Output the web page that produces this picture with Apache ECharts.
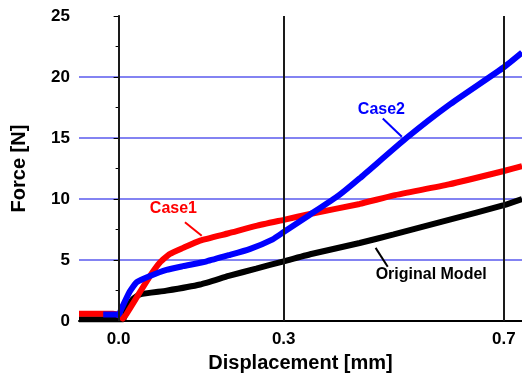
<!DOCTYPE html>
<html>
<head>
<meta charset="utf-8">
<script src="https://cdn.jsdelivr.net/npm/echarts@6/dist/echarts.min.js"></script>
<style>
  html, body { margin: 0; padding: 0; background: #fff; }
  #force-chart { width: 522px; height: 378px; }
</style>
</head>
<body>
<div id="force-chart"></div>
<script>
// values
var xTicks = [0.0, 0.3, 0.7];
var markerX = [0.0, 0.3, 0.7];

var originalX = [-0.072, -0.01, 0.008, 0.015, 0.026, 0.039, 0.087, 0.148, 0.2, 0.25, 0.3, 0.35, 0.438, 0.5, 0.6, 0.7, 0.733];
var originalY = [0.15, 0.15, 0.15, 1.0, 1.8, 2.2, 2.5, 3.0, 3.7, 4.3, 4.9, 5.5, 6.4, 7.1, 8.3, 9.5, 10.0];

var case1X = [-0.072, -0.01, 0.0, 0.008, 0.02, 0.039, 0.057, 0.075, 0.093, 0.117, 0.148, 0.2, 0.25, 0.3, 0.35, 0.438, 0.5, 0.6, 0.7, 0.733];
var case1Y = [0.6, 0.6, 0.5, 0.2, 1.0, 2.4, 3.7, 4.8, 5.5, 6.0, 6.6, 7.2, 7.8, 8.3, 8.8, 9.6, 10.3, 11.2, 12.3, 12.7];

var case2X = [-0.028, -0.005, 0.0, 0.005, 0.02, 0.033, 0.057, 0.087, 0.117, 0.16, 0.2, 0.238, 0.28, 0.3, 0.347, 0.4, 0.438, 0.523, 0.6, 0.7, 0.733];
var case2Y = [0.55, 0.55, 0.5, 1.0, 2.4, 3.2, 3.7, 4.2, 4.5, 4.9, 5.4, 5.9, 6.7, 7.3, 8.7, 10.3, 11.7, 15.0, 17.7, 20.8, 22.0];

// annotation anchors in data units: text position, arrow start, arrow tip
var case1Note = { text: 'Case1', at: [0.0996, 9.2], from: [0.1205, 8.1], to: [0.151, 7.0] };
var case2Note = { text: 'Case2', at: [0.4775, 17.3], from: [0.480, 16.6], to: [0.5147, 15.1] };
var originalNote = { text: 'Original Model', at: [0.568, 3.84], from: [0.489, 4.45], to: [0.467, 6.0] };

var FONT = '"Liberation Sans", Arial, sans-serif';

function pairs(xs, ys) {
  return xs.map(function (x, i) { return [x, ys[i]]; });
}

function noteMarks(note, color) {
  return {
    markLine: {
      silent: true,
      symbol: ['none', 'arrow'],
      symbolSize: [0, 8],
      lineStyle: { color: color, width: 2, type: 'solid' },
      label: { show: false },
      data: [[{ coord: note.from }, { coord: note.to }]]
    },
    markPoint: {
      silent: true,
      symbol: 'circle',
      symbolSize: 0,
      label: {
        show: true,
        position: 'inside',
        formatter: note.text,
        color: color,
        fontFamily: FONT,
        fontWeight: 'bold',
        fontSize: 16
      },
      data: [{ coord: note.at }]
    }
  };
}

var chart = echarts.init(document.getElementById('force-chart'), null, { renderer: 'canvas' });

var blackSeries = Object.assign({
  name: 'Original Model',
  type: 'line',
  showSymbol: false,
  smooth: 0.15,
  z: 2,
  lineStyle: { color: '#000000', width: 6 },
  data: pairs(originalX, originalY)
}, noteMarks(originalNote, '#000000'));

var redSeries = Object.assign({
  name: 'Case1',
  type: 'line',
  showSymbol: false,
  smooth: 0.15,
  z: 3,
  lineStyle: { color: '#ff0000', width: 6 },
  data: pairs(case1X, case1Y)
}, noteMarks(case1Note, '#ff0000'));

var blueSeries = Object.assign({
  name: 'Case2',
  type: 'line',
  showSymbol: false,
  smooth: 0.15,
  z: 4,
  lineStyle: { color: '#0000ff', width: 6 },
  data: pairs(case2X, case2Y)
}, noteMarks(case2Note, '#0000ff'));

// vertical black reference lines
var refSeries = {
  type: 'line',
  data: [],
  z: 1,
  markLine: {
    silent: true,
    symbol: ['none', 'none'],
    label: { show: false },
    lineStyle: { color: '#1a1a1a', width: 2, type: 'solid' },
    data: markerX.map(function (v) { return { xAxis: v }; })
  }
};

chart.setOption({
  animation: false,
  backgroundColor: '#ffffff',
  grid: { left: 79, right: 0, top: 16, bottom: 56 },
  xAxis: {
    type: 'value',
    min: -0.072,
    max: 0.733,
    name: 'Displacement [mm]',
    nameLocation: 'middle',
    nameGap: 31,
    nameTextStyle: { color: '#000', fontFamily: FONT, fontWeight: 'bold', fontSize: 20 },
    axisLine: { show: true, onZero: false, lineStyle: { color: '#000', width: 2 } },
    axisTick: { show: false },
    splitLine: { show: false },
    axisLabel: {
      customValues: xTicks,
      margin: 10,
      color: '#000',
      fontFamily: FONT,
      fontWeight: 'bold',
      fontSize: 17,
      formatter: function (v) { return v.toFixed(1); }
    }
  },
  yAxis: {
    type: 'value',
    min: 0,
    max: 25,
    interval: 5,
    name: 'Force [N]',
    nameLocation: 'middle',
    nameGap: 50,
    nameTextStyle: { color: '#000', fontFamily: FONT, fontWeight: 'bold', fontSize: 20 },
    axisLine: { show: true, lineStyle: { color: '#000', width: 2 } },
    axisTick: { show: true, length: 5, lineStyle: { color: '#000', width: 1 } },
    minorTick: { show: true, splitNumber: 2, length: 3, lineStyle: { color: '#000', width: 1 } },
    splitLine: {
      show: true,
      showMinLine: false,
      showMaxLine: false,
      lineStyle: { color: '#5a5aee', width: 1.5 }
    },
    axisLabel: {
      margin: 9,
      color: '#000',
      fontFamily: FONT,
      fontWeight: 'bold',
      fontSize: 17
    }
  },
  series: [refSeries, blackSeries, redSeries, blueSeries]
});
</script>
</body>
</html>
